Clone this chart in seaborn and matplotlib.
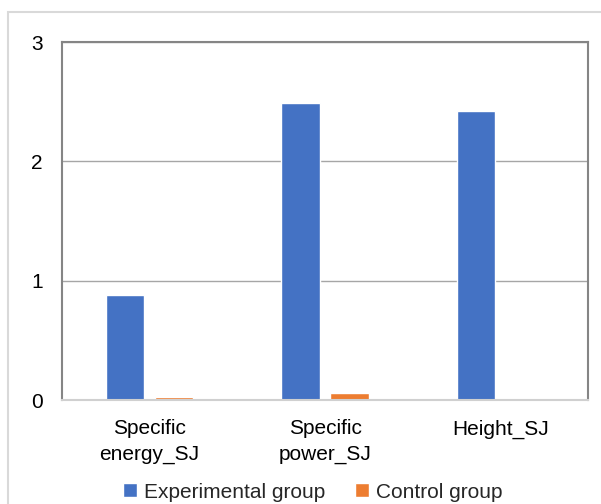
import pandas as pd
import matplotlib
matplotlib.use('Agg')
import matplotlib.pyplot as plt
from matplotlib.patches import Rectangle
import seaborn as sns

# ── Data ───────────────────────────────────────────────────────────────────────
categories = ['Specific\nenergy_SJ', 'Specific\npower_SJ', 'Height_SJ']
groups = ['Experimental group', 'Control group']
experimental = [0.88, 2.49, 2.42]
control = [0.025, 0.06, 0.008]

colors = {'Experimental group': '#4472C4', 'Control group': '#ED7D31'}

df = pd.DataFrame({
    'measure': categories * 2,
    'group': [groups[0]] * 3 + [groups[1]] * 3,
    'value': experimental + control,
})

# ── Plot ───────────────────────────────────────────────────────────────────────
sns.set_style('white')
plt.rcParams['font.family'] = ['Liberation Sans', 'DejaVu Sans']

fig = plt.figure(figsize=(6.01, 5.04), dpi=100)
ax = fig.add_axes([62 / 601, 1 - 400 / 504, 526 / 601, 358 / 504])

sns.barplot(data=df, x='measure', y='value', hue='group', palette=colors,
            width=0.559, gap=0.224, saturation=1, ax=ax, legend=True)

ax.set_ylim(0, 3)
ax.set_yticks([0, 1, 2, 3])
ax.set_xlim(-0.5, 2.5)
ax.set_xlabel('')
ax.set_ylabel('')
ax.grid(axis='y', color='#a6a6a6', linewidth=1)
ax.set_axisbelow(True)

for side in ['left', 'top', 'right']:
    ax.spines[side].set_visible(True)
    ax.spines[side].set_color('#858585')
    ax.spines[side].set_linewidth(1.5)
ax.spines['bottom'].set_color('#d0d0d0')
ax.spines['bottom'].set_linewidth(1.5)

ax.tick_params(axis='y', length=0, pad=14, labelsize=15, labelcolor='black')
ax.tick_params(axis='x', length=0, pad=14, labelsize=15, labelcolor='black')
for lab in ax.get_xticklabels():
    lab.set_linespacing(1.45)

ax.legend(loc='lower center', bbox_to_anchor=(313 / 601, -0.012), bbox_transform=fig.transFigure,
          ncol=2, frameon=False, fontsize=15, handlelength=0.65, handleheight=0.65,
          handletextpad=0.35, columnspacing=1.45, borderaxespad=0.0)

# outer chart border
fig.patches.append(Rectangle((8 / 601, -0.05), 1.0, 1 - 12 / 504 + 0.05,
                             transform=fig.transFigure, fill=False,
                             edgecolor='#d9d9d9', linewidth=1.5))

fig.savefig('out.png', dpi=100)
plt.close()
